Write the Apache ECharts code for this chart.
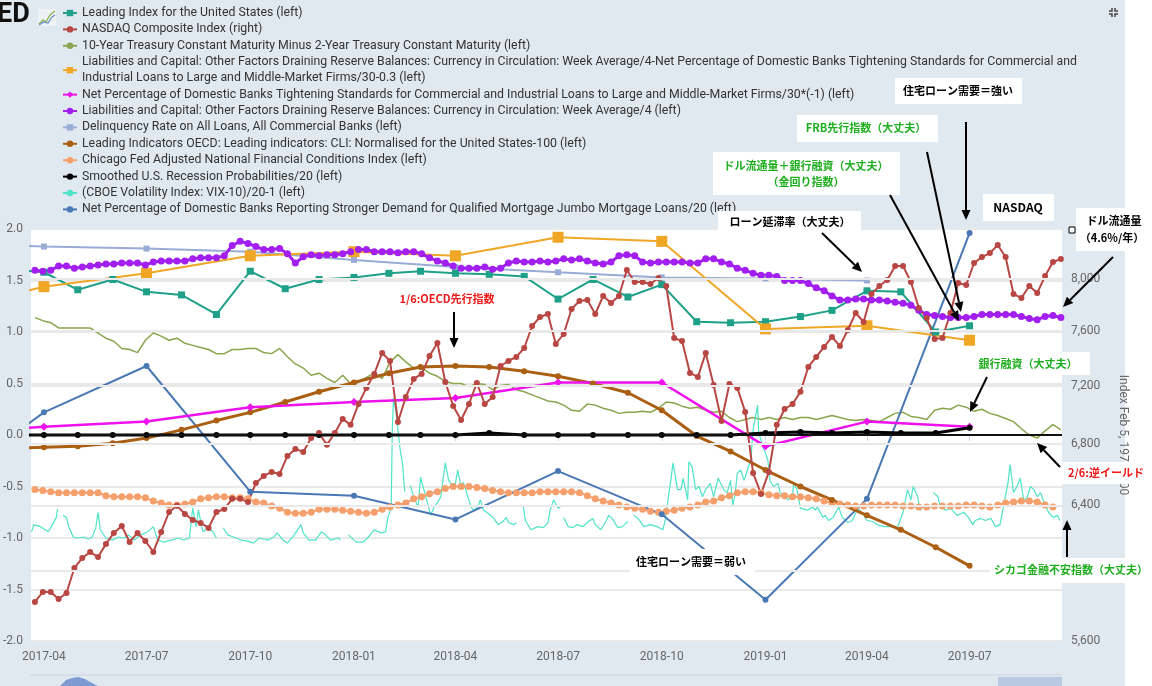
<!DOCTYPE html>
<html>
<head>
<meta charset="utf-8">
<script src="https://cdn.jsdelivr.net/npm/echarts@6.0.0/dist/echarts.min.js"></script>
<style>
  html, body { margin: 0; padding: 0; background: #fff; }
  #fred { width: 1152px; height: 686px; }
</style>
</head>
<body>
<div id="fred"></div>
<script>
// ---- data ----
var monthDates = ['2017-03-01','2017-04-01','2017-05-01','2017-06-01','2017-07-01','2017-08-01','2017-09-01','2017-10-01','2017-11-01','2017-12-01',
  '2018-01-01','2018-02-01','2018-03-01','2018-04-01','2018-05-01','2018-06-01','2018-07-01','2018-08-01','2018-09-01','2018-10-01','2018-11-01','2018-12-01',
  '2019-01-01','2019-02-01','2019-03-01','2019-04-01','2019-05-01','2019-06-01','2019-07-01'];
var quarterDates = ['2017-01-01','2017-04-01','2017-07-01','2017-10-01','2018-01-01','2018-04-01','2018-07-01','2018-10-01','2019-01-01','2019-04-01','2019-07-01'];

// weekly series start on this friday
var weekStart = [2017, 2, 24];

var leadingIndex = [1.61,1.58,1.41,1.51,1.39,1.36,1.17,1.59,1.42,1.51,1.53,1.57,1.59,1.57,1.56,1.54,1.32,1.51,1.34,1.46,1.10,1.09,1.10,1.15,1.21,1.40,1.39,1.00,1.06];

var nasdaq = [5820,5877,5877,5837,5871,6018,6077,6113,6083,6162,6229,6272,6174,6229,6180,6113,6235,6359,6398,6347,
  6309,6291,6260,6359,6378,6442,6442,6422,6543,6589,6615,6602,6720,6767,6747,6840,6874,6794,6874,6969,
  6929,7073,7186,7286,7438,7379,6949,7122,7250,7286,7415,7511,7228,7059,6962,7073,7221,7073,7122,7343,
  7379,7409,7474,7638,7706,7729,7504,7578,7767,7829,7836,7729,7867,7814,7867,8071,7976,7976,7961,8008,
  7945,7548,7526,7293,7264,7438,7207,6956,7214,7186,7018,6608,6473,6615,6929,7038,7073,7158,7336,7409,
  7482,7556,7489,7608,7737,7668,7882,7945,7992,8103,8103,7976,7775,7699,7541,7548,7737,7969,7953,8127,
  8175,8207,8273,8175,7882,7852,7945,7890,8024,8135,8159];

var spread10y2y = [1.14,1.11,1.09,1.04,1.04,1.04,1.04,1.04,0.99,0.94,0.91,0.84,0.83,0.80,0.92,0.99,0.96,0.92,0.94,0.89,
  0.87,0.85,0.83,0.79,0.79,0.83,0.83,0.84,0.84,0.80,0.79,0.84,0.76,0.69,0.65,0.58,0.60,0.55,0.51,0.58,
  0.50,0.51,0.56,0.60,0.55,0.71,0.78,0.71,0.65,0.65,0.60,0.57,0.52,0.50,0.50,0.47,0.50,0.49,0.44,0.48,
  0.49,0.44,0.42,0.39,0.36,0.33,0.32,0.29,0.24,0.23,0.30,0.29,0.26,0.24,0.21,0.22,0.22,0.23,0.22,0.26,
  0.32,0.31,0.28,0.26,0.27,0.24,0.22,0.23,0.17,0.13,0.15,0.17,0.15,0.17,0.15,0.17,0.15,0.17,0.17,0.15,
  0.17,0.19,0.17,0.15,0.14,0.15,0.14,0.13,0.17,0.21,0.22,0.18,0.17,0.15,0.24,0.26,0.25,0.29,0.27,0.23,
  0.25,0.21,0.19,0.16,0.13,0.06,0.00,-0.03,0.04,0.10,0.05];

var currencyMinusTightening = [1.20,1.44,1.57,1.74,1.78,1.74,1.92,1.88,1.03,1.06,0.92];
var tighteningNeg = [0.01,0.08,0.13,0.27,0.32,0.36,0.51,0.51,-0.11,0.13,0.08];

var currency = [1.60,1.59,1.60,1.64,1.64,1.62,1.63,1.64,1.65,1.66,1.66,1.67,1.67,1.67,1.65,1.68,1.69,1.69,1.69,1.69,
  1.71,1.72,1.72,1.72,1.74,1.84,1.88,1.86,1.83,1.80,1.80,1.81,1.76,1.67,1.73,1.75,1.74,1.75,1.75,1.76,
  1.78,1.80,1.80,1.78,1.78,1.78,1.77,1.78,1.78,1.76,1.72,1.69,1.67,1.64,1.62,1.62,1.62,1.63,1.61,1.62,
  1.67,1.69,1.68,1.68,1.69,1.68,1.69,1.71,1.70,1.71,1.69,1.67,1.66,1.68,1.74,1.75,1.74,1.68,1.67,1.68,
  1.68,1.68,1.68,1.67,1.67,1.71,1.71,1.68,1.66,1.62,1.60,1.57,1.55,1.55,1.54,1.50,1.50,1.50,1.47,1.43,
  1.40,1.35,1.31,1.31,1.32,1.32,1.31,1.31,1.30,1.29,1.28,1.26,1.21,1.17,1.16,1.15,1.14,1.14,1.14,1.15,
  1.17,1.17,1.17,1.17,1.17,1.15,1.13,1.12,1.15,1.16,1.14];

var delinquency = [1.86,1.83,1.81,1.78,1.70,1.63,1.58,1.53,1.52,1.50];

var oecdCli = [-0.13,-0.12,-0.11,-0.08,-0.03,0.05,0.14,0.22,0.32,0.42,0.51,0.60,0.66,0.67,0.66,0.62,0.57,0.50,0.41,0.24,-0.01,-0.16,-0.34,-0.50,-0.63,-0.78,-0.92,-1.09,-1.27];

var nfci = [-0.53,-0.54,-0.55,-0.56,-0.56,-0.56,-0.56,-0.56,-0.56,-0.59,-0.60,-0.60,-0.60,-0.60,-0.61,-0.64,-0.66,-0.68,-0.68,-0.67,
  -0.65,-0.62,-0.61,-0.60,-0.60,-0.61,-0.61,-0.62,-0.65,-0.66,-0.69,-0.71,-0.75,-0.76,-0.76,-0.75,-0.72,-0.72,-0.72,-0.73,
  -0.74,-0.75,-0.76,-0.75,-0.72,-0.70,-0.68,-0.66,-0.62,-0.60,-0.57,-0.55,-0.52,-0.50,-0.50,-0.50,-0.51,-0.52,-0.54,-0.55,
  -0.56,-0.56,-0.56,-0.56,-0.55,-0.55,-0.55,-0.55,-0.55,-0.56,-0.59,-0.62,-0.64,-0.66,-0.68,-0.70,-0.71,-0.72,-0.74,-0.75,
  -0.74,-0.73,-0.71,-0.70,-0.68,-0.65,-0.64,-0.61,-0.59,-0.56,-0.55,-0.55,-0.56,-0.58,-0.59,-0.59,-0.60,-0.60,-0.61,-0.62,
  -0.64,-0.66,-0.67,-0.68,-0.69,-0.69,-0.68,-0.68,-0.68,-0.68,-0.69,-0.69,-0.70,-0.70,-0.69,-0.69,-0.69,-0.69,-0.68,-0.68,
  -0.69,-0.70,-0.68,-0.66,-0.65,-0.64,-0.64,-0.65,-0.68,-0.70];

var recession = [0,0,0,0,0,0,0,0,0,0,0,0,0,0,0.02,0,0,0,0,0,0,0,0.02,0.03,0.02,0.03,0.02,0.02,0.07];

// VIX: days after 2017-04-01, null = gap in the daily series
var vixDays = [-11,-9,-3,4,6,11,12,13,
  17,20,22,26,30,35,39,43,46,48,50,55,61,66,71,75,80,86,92,97,101,106,113,119,124,129,132,135,137,141,145,150,153,155,
  159,163,168,175,181,186,191,199,204,207,212,216,222,228,230,235,241,246,250,254,261,263,266,
  270,277,283,287,293,299,303,305,308,309,310,312,314,316,318,320,322,
  325,328,332,334,337,340,343,346,349,352,356,359,363,365,367,370,372,376,379,381,385,387,390,394,399,403,407,410,412,417,419,421,
  425,427,432,438,443,447,449,452,456,458,460,
  461,465,469,473,478,483,487,489,494,498,501,504,509,513,518,520,
  523,527,532,538,544,549,551,556,558,562,565,567,571,572,575,578,581,584,587,591,594,598,603,606,609,611,613,615,618,621,
  624,627,629,633,634,638,642,644,647,651,653,660,664,665,668,671,677,682,684,686,691,693,696,700,705,708,713,717,722,726,
  730,735,739,745,751,757,762,766,769,771,775,777,782,785,787,
  789,793,795,800,804,810,816,820,824,826,831,835,840,844,848,851,855,857,860,863,866,869,872,875,878,881,884,887,891,895,899,901];
var vixValues = [-0.94,-0.87,-0.89,-0.94,-0.90,-0.80,-0.72,null,
  -0.78,-0.80,-0.89,-0.99,-1.00,-0.99,-1.01,-0.99,-0.90,-0.75,-0.92,-1.00,-1.02,-0.99,-1.00,-0.97,-1.02,-0.97,-0.94,-0.89,-1.02,-1.04,-1.02,-1.00,-1.02,-1.00,-0.71,-0.89,-0.73,-0.94,-0.90,-0.94,-1.00,null,
  -0.90,-0.97,-0.99,-1.02,-1.03,-1.05,-1.00,-1.02,-0.99,-0.95,-1.02,-1.05,-0.97,-0.87,-0.95,-1.02,-1.02,-0.94,-0.97,-1.02,-1.00,-1.02,null,
  -0.97,-1.04,-1.04,-1.00,-0.92,-0.95,-0.94,-0.80,-0.71,0.05,0.36,0.24,0.05,-0.15,-0.27,-0.55,null,
  -0.49,-0.60,-0.70,-0.41,-0.53,-0.65,-0.78,-0.70,-0.66,-0.60,-0.27,-0.44,-0.50,-0.47,-0.34,-0.50,-0.46,-0.60,-0.70,-0.73,-0.70,-0.63,-0.73,-0.76,-0.81,-0.87,-0.84,-0.80,-0.85,-0.87,-0.85,null,
  -0.68,-0.83,-0.92,-0.89,-0.90,-0.85,-0.73,-0.63,-0.71,-0.70,null,
  -0.80,-0.89,-0.90,-0.87,-0.89,-0.84,-0.81,-0.87,-0.92,-0.85,-0.78,-0.81,-0.90,-0.89,-0.84,null,
  -0.78,-0.81,-0.89,-0.87,-0.89,-0.92,-0.83,-0.44,-0.27,-0.53,-0.53,-0.42,-0.63,-0.26,-0.31,-0.53,-0.50,-0.60,-0.53,-0.47,-0.60,-0.42,-0.53,-0.56,-0.44,-0.68,-0.58,-0.37,-0.34,-0.44,
  -0.34,-0.24,0.05,0.29,0.02,-0.12,-0.24,-0.44,-0.50,-0.47,-0.56,-0.63,-0.58,-0.47,-0.53,-0.71,-0.73,-0.70,-0.73,-0.70,-0.80,-0.78,-0.83,-0.80,-0.70,-0.80,-0.85,-0.83,-0.71,-0.76,
  -0.83,-0.84,-0.87,-0.89,-0.89,-0.90,-0.75,-0.53,-0.63,-0.50,-0.60,-0.73,-0.68,-0.71,null,
  -0.56,-0.60,-0.70,-0.73,-0.71,-0.78,-0.75,-0.80,-0.87,-0.83,-0.81,-0.83,-0.81,-0.89,-0.87,-0.70,-0.47,-0.29,-0.56,-0.50,-0.42,-0.63,-0.61,-0.50,-0.53,-0.60,-0.56,-0.65,-0.75,-0.80,-0.78,-0.83];

var jumboDemand = [-0.50,0.22,0.67,-0.55,-0.59,-0.82,-0.35,-0.77,-1.60,-0.62,1.96];

var leftTicks = { min: -2, max: 2, step: 0.5 };
var rightTicks = [8000, 7600, 7200, 6800, 6400, 6000, 5600];

// ---- names / colours ----
var names = [
  'Leading Index for the United States (left)',
  'NASDAQ Composite Index (right)',
  '10-Year Treasury Constant Maturity Minus 2-Year Treasury Constant Maturity (left)',
  'Liabilities and Capital: Other Factors Draining Reserve Balances: Currency in Circulation: Week Average/4-Net Percentage of Domestic Banks Tightening Standards for Commercial and Industrial Loans to Large and Middle-Market Firms/30-0.3 (left)',
  'Net Percentage of Domestic Banks Tightening Standards for Commercial and Industrial Loans to Large and Middle-Market Firms/30*(-1) (left)',
  'Liabilities and Capital: Other Factors Draining Reserve Balances: Currency in Circulation: Week Average/4 (left)',
  'Delinquency Rate on All Loans, All Commercial Banks (left)',
  'Leading Indicators OECD: Leading indicators: CLI: Normalised for the United States-100 (left)',
  'Chicago Fed Adjusted National Financial Conditions Index (left)',
  'Smoothed U.S. Recession Probabilities/20 (left)',
  '(CBOE Volatility Index: VIX-10)/20-1 (left)',
  'Net Percentage of Domestic Banks Reporting Stronger Demand for Qualified Mortgage Jumbo Mortgage Loans/20 (left)'
];

function weekly(values) {
  return values.map(function (v, i) {
    return [+new Date(weekStart[0], weekStart[1], weekStart[2] + 7 * i), v];
  });
}
function pair(dates, values) {
  return values.map(function (v, i) { return [dates[i], v]; });
}
var vixData = vixDays.map(function (d, i) { return [+new Date(2017, 3, 1 + d), vixValues[i]]; });

function line(name, data, color, opts) {
  var s = {
    name: name, type: 'line', data: data, yAxisIndex: 0,
    symbol: 'none', showAllSymbol: true,
    lineStyle: { color: color, width: 2 },
    itemStyle: { color: color },
    emphasis: { disabled: true },
    animation: false
  };
  for (var k in opts) s[k] = opts[k];
  if (opts.width) { s.lineStyle.width = opts.width; delete s.width; }
  return s;
}

var dom = document.getElementById('fred');
var myChart = echarts.init(dom);

var uiFont = "Roboto, 'Open Sans', sans-serif";
var cjkFont = "'Noto Sans CJK JP', sans-serif";

// annotation helpers
function box(x, y, w, h) {
  return { type: 'rect', z: 100, shape: { x: x, y: y, width: w, height: h }, style: { fill: '#fff' } };
}
function label(x, y, text, color, size) {
  return { type: 'text', z: 102, x: x, y: y,
    style: { text: text, fill: color, font: 'bold ' + (size || 11) + 'px ' + cjkFont,
      align: 'center', verticalAlign: 'middle', textAlign: 'center', textVerticalAlign: 'middle' } };
}
function arrow(x1, y1, x2, y2) {
  var a = Math.atan2(y2 - y1, x2 - x1), L = 10, W = 4.5;
  var bx = x2 - L * Math.cos(a), by = y2 - L * Math.sin(a);
  return [
    { type: 'line', z: 101, shape: { x1: x1, y1: y1, x2: bx, y2: by }, style: { stroke: '#000', lineWidth: 2 } },
    { type: 'polygon', z: 101, shape: { points: [[x2, y2], [bx + W * Math.sin(a), by - W * Math.cos(a)], [bx - W * Math.sin(a), by + W * Math.cos(a)]] },
      style: { fill: '#000' } }
  ];
}

var green = '#1fae1f', red = '#f01818';
var graphics = [
  // white strip right of the FRED frame
  { type: 'rect', z: 0, shape: { x: 1125, y: 0, width: 27, height: 686 }, style: { fill: '#fff' } },
  // logo
  { type: 'text', z: 5, x: -3, y: 2, style: { text: 'ED', fill: '#111', font: 'bold 27px ' + uiFont } },
  { type: 'rect', z: 5, shape: { x: 38, y: 9, width: 18, height: 17 }, style: { fill: '#eef1f4' } },
  { type: 'polyline', z: 6, shape: { points: [[39, 24], [43, 20], [46, 22], [50, 15], [55, 11]] }, style: { stroke: '#7fb24a', lineWidth: 1.2, fill: null } },
  { type: 'polyline', z: 6, shape: { points: [[39, 25], [44, 22], [48, 23], [52, 17], [55, 15]] }, style: { stroke: '#6c8fc7', lineWidth: 1.2, fill: null } },
  // fullscreen icon
  { type: 'polyline', z: 5, shape: { points: [[1109, 11], [1112, 11], [1112, 8]] }, style: { stroke: '#444', lineWidth: 1.5, fill: null } },
  { type: 'polyline', z: 5, shape: { points: [[1118, 11], [1115, 11], [1115, 8]] }, style: { stroke: '#444', lineWidth: 1.5, fill: null } },
  { type: 'polyline', z: 5, shape: { points: [[1109, 14], [1112, 14], [1112, 17]] }, style: { stroke: '#444', lineWidth: 1.5, fill: null } },
  { type: 'polyline', z: 5, shape: { points: [[1118, 14], [1115, 14], [1115, 17]] }, style: { stroke: '#444', lineWidth: 1.5, fill: null } },
  // navigator strip
  { type: 'line', z: 5, shape: { x1: 30, y1: 675, x2: 1062, y2: 675 }, style: { stroke: '#c9d3e2', lineWidth: 1 } },
  { type: 'polygon', z: 5, shape: { points: [[60, 686], [66, 680], [72, 678], [78, 677], [85, 679], [92, 683], [98, 686]] }, style: { fill: '#7d9bd0' } },
  { type: 'rect', z: 5, shape: { x: 998, y: 677, width: 64, height: 9 }, style: { fill: '#b9c9e2' } },

  // annotation boxes
  box(895, 78, 127, 26), label(958, 91, '住宅ローン需要＝強い', '#000'),
  box(797, 115, 141, 27), label(866, 128, 'FRB先行指数（大丈夫）', green),
  box(713, 152, 187, 43), label(806, 166, 'ドル流通量＋銀行融資（大丈夫）', green), label(806, 182, '（金回り指数）', green),
  box(718, 211, 143, 21), label(790, 222, 'ローン延滞率（大丈夫）', '#000'),
  box(983, 194, 71, 27), label(1018, 207, 'NASDAQ', '#000', 12),
  box(1076, 208, 74, 43), label(1114, 221, 'ドル流通量', '#000'), label(1112, 238, '（4.6%/年）', '#000'),
  { type: 'rect', z: 103, shape: { x: 1069, y: 227, width: 6, height: 6 }, style: { fill: '#fff', stroke: '#000', lineWidth: 1 } },
  label(447, 299, '1/6:OECD先行指数', red),
  box(978, 352, 112, 23), label(1028, 364, '銀行融資（大丈夫）', green),
  box(630, 549, 125, 26), label(691, 562, '住宅ローン需要＝弱い', '#000'),
  box(1062, 462, 90, 22), label(1106, 473, '2/6:逆イールド', red),
  box(990, 558, 162, 25), label(1071, 570, 'シカゴ金融不安指数（大丈夫）', green)
]
  .concat(arrow(966, 122, 966, 220))
  .concat(arrow(927, 152, 961, 312))
  .concat(arrow(890, 195, 959, 321))
  .concat(arrow(822, 233, 862, 272))
  .concat(arrow(1113, 257, 1063, 307))
  .concat(arrow(454, 312, 454, 348))
  .concat(arrow(987, 377, 970, 412))
  .concat(arrow(1060, 467, 1037, 443))
  .concat(arrow(1067, 557, 1067, 520));

option = {
  backgroundColor: '#e1e9f0',
  animation: false,
  textStyle: { fontFamily: uiFont },
  legend: {
    data: names,
    orient: 'vertical',
    left: 57, top: 0,
    itemWidth: 14, itemHeight: 8, itemGap: 0.4,
    selectedMode: false,
    textStyle: { fontSize: 12.3, color: '#333', lineHeight: 16, fontFamily: uiFont },
    formatter: function (n) {
      return n === names[3] ? n.replace('Commercial and ', 'Commercial and\n') : n;
    }
  },
  grid: { left: 30, right: 90, top: 229, bottom: 45, show: true, backgroundColor: '#fff', borderWidth: 0 },
  xAxis: {
    type: 'time',
    min: +new Date(2017, 2, 20, 12), max: +new Date(2019, 8, 21),
    splitNumber: 10,
    axisLine: { lineStyle: { color: '#ccd6eb' } },
    axisTick: { show: true, length: 6, lineStyle: { color: '#ccd6eb' } },
    splitLine: { show: false },
    axisLabel: {
      color: '#666', fontSize: 12, margin: 10, fontFamily: uiFont,
      formatter: function (v) {
        var d = new Date(v), m = d.getMonth() + 1;
        return d.getFullYear() + '-' + (m < 10 ? '0' + m : m);
      }
    }
  },
  yAxis: [
    {
      type: 'value', min: leftTicks.min, max: leftTicks.max, interval: leftTicks.step,
      axisLine: { show: false }, axisTick: { show: false },
      axisLabel: { color: '#666', fontSize: 12, margin: 8, formatter: function (v) { return v.toFixed(1); } },
      splitLine: { lineStyle: { color: '#e9e9e9', width: 2 } }
    },
    {
      type: 'log', logBase: 10, min: 5600, max: 8404, position: 'right',
      axisLine: { show: false }, axisTick: { show: false }, axisLabel: { show: false }, splitLine: { show: false },
      name: 'Index Feb 5, 1971=100', nameLocation: 'middle', nameRotate: -90, nameGap: 55,
      nameTextStyle: { color: '#666', fontSize: 12, fontFamily: uiFont }
    }
  ],
  series: [
    // right-axis grid lines and labels
    {
      type: 'line', yAxisIndex: 1, data: [], z: 1, silent: true, animation: false,
      markLine: {
        silent: true, symbol: ['none', 'none'], animation: false,
        lineStyle: { color: '#e9e9e9', width: 2, type: 'solid' },
        label: { position: 'end', distance: 9, color: '#666', fontSize: 12, fontFamily: uiFont,
          formatter: function (p) { return echarts.format.addCommas(p.value); } },
        emphasis: { disabled: true },
        data: rightTicks.map(function (v) { return { yAxis: v }; })
      }
    },
    line(names[6], pair(quarterDates, delinquency), '#98acd6', { symbol: 'rect', symbolSize: 6 }),
    line(names[2], weekly(spread10y2y), '#89a54e', { width: 1.5 }),
    line(names[10], vixData, '#4fe3c8', { width: 1.2, connectNulls: false }),
    line(names[8], weekly(nfci), '#f5a06c', { symbol: 'circle', symbolSize: 7 }),
    line(names[11], pair(quarterDates, jumboDemand), '#4a78b5', { symbol: 'circle', symbolSize: 6 }),
    line(names[7], pair(monthDates, oecdCli), '#aa5f12', { symbol: 'circle', symbolSize: 6, width: 3 }),
    line(names[4], pair(quarterDates, tighteningNeg), '#ee11ee', { symbol: 'diamond', symbolSize: 8, width: 2.5 }),
    line(names[9], pair(monthDates, recession), '#000', { symbol: 'circle', symbolSize: 6, width: 3,
      markLine: { silent: true, symbol: ['none', 'none'], animation: false, label: { show: false },
        lineStyle: { color: '#111', width: 2, type: 'solid' }, emphasis: { disabled: true }, data: [{ yAxis: 0 }] } }),
    line(names[0], pair(monthDates, leadingIndex), '#1fa088', { symbol: 'rect', symbolSize: 7 }),
    line(names[3], pair(quarterDates, currencyMinusTightening), '#f0a725', { symbol: 'rect', symbolSize: 11 }),
    line(names[5], weekly(currency), '#a21ff0', { symbol: 'circle', symbolSize: 7, width: 3 }),
    line(names[1], weekly(nasdaq), '#b84744', { symbol: 'circle', symbolSize: 6, yAxisIndex: 1 })
  ],
  graphic: graphics
};

if (option && typeof option === "object") {
    myChart.setOption(option, true);
}
</script>
</body>
</html>
